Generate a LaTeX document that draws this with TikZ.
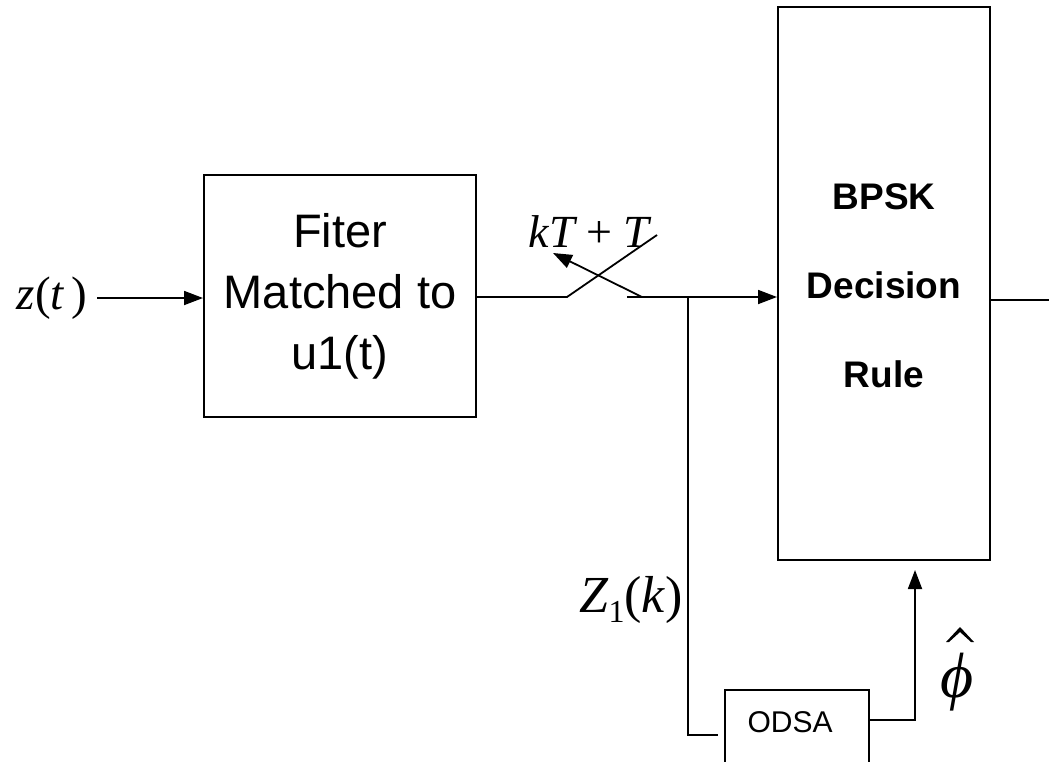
\documentclass[tikz,border=0pt]{standalone}
\usepackage{fontspec}
\setmainfont{Liberation Sans}
\newfontfamily\tms{Liberation Serif}
\usetikzlibrary{arrows.meta}
\tikzset{
  wire/.style={line width=1.8pt},
  sig/.style={wire,-{Triangle[length=19pt,width=14pt]}},
  block/.style={draw,line width=2pt,rectangle,inner sep=0pt},
  mlabel/.style={inner sep=0pt,font=\tms},
}
\newcommand{\iv}[1]{{\itshape #1}}
\begin{document}
\begin{tikzpicture}[x=1pt,y=-1pt]
\useasboundingbox[fill=white] (0,0) rectangle (1049,761);

% blocks
\node[block,minimum width=272pt,minimum height=242pt,align=center,
      font=\fontsize{47}{61}\selectfont] (filt) at (340,296) {Fiter\\Matched to\\u1(t)};
\node[block,minimum width=212pt,minimum height=553pt] (bpsk) at (884,283.5) {};
\node[inner sep=0pt,align=center,font=\fontsize{37}{89}\selectfont\bfseries]
      (bpsktxt) at (884,286) {BPSK\\Decision\\Rule};
\node[block,minimum width=144pt,minimum height=90pt] (odsa) at (797,735) {};
\node[inner sep=0pt,font=\fontsize{30}{36}\selectfont] (odsatxt) at (790,722) {ODSA};

% labels
\node[mlabel,font=\tms\fontsize{47}{52}\selectfont] (zt) at (52,298) {\iv{z}(\iv{t}\,)};
\node[mlabel,font=\tms\fontsize{46}{50}\selectfont] (kt) at (589,232) {\iv{kT} + \iv{T}};
\node[mlabel,font=\tms\fontsize{52}{58}\selectfont] (zk) at (631,600)
      {\iv{Z}\raisebox{-10pt}{\fontsize{32}{36}\selectfont 1}(\iv{k})};
\node[mlabel,font=\tms\fontsize{64}{70}\selectfont] (phi) at (957,682) {\iv{ϕ}};
% circumflex over the phase estimate
\fill (946,642) -- (960,627) -- (974,642) -- (971,642) -- (960,632) -- (949,642) -- cycle;

% coordinates of the sampling switch and the taps
\coordinate (sw1) at (567,297);
\coordinate (swtip) at (657,235);
\coordinate (sw2) at (627,297);
\coordinate (swarr) at (642,297);
\coordinate (swhead) at (553,253);
\coordinate (tap) at (688,297);
\coordinate (tapdown) at (688,735);
\coordinate (tapin) at (718,735);
\coordinate (phicorner) at (915,720);
\coordinate (outend) at (1060,300);

% connectors
\draw[sig] (zt.east) ++(10,0) -- (filt.west |- zt.east);
\draw[wire] (filt.east |- sw1) -- (sw1) -- (swtip);
\draw[sig] (swarr) -- (swhead);
\draw[sig] (sw2) -- (bpsk.west |- sw2);
\draw[wire] (tap) -- (tapdown) -- (tapin);
\draw[sig,shorten >=9pt] (odsa.east |- phicorner) -- (phicorner) -- (bpsk.south -| phicorner);
\draw[wire] (bpsk.east |- outend) -- (outend);
\end{tikzpicture}
\end{document}
